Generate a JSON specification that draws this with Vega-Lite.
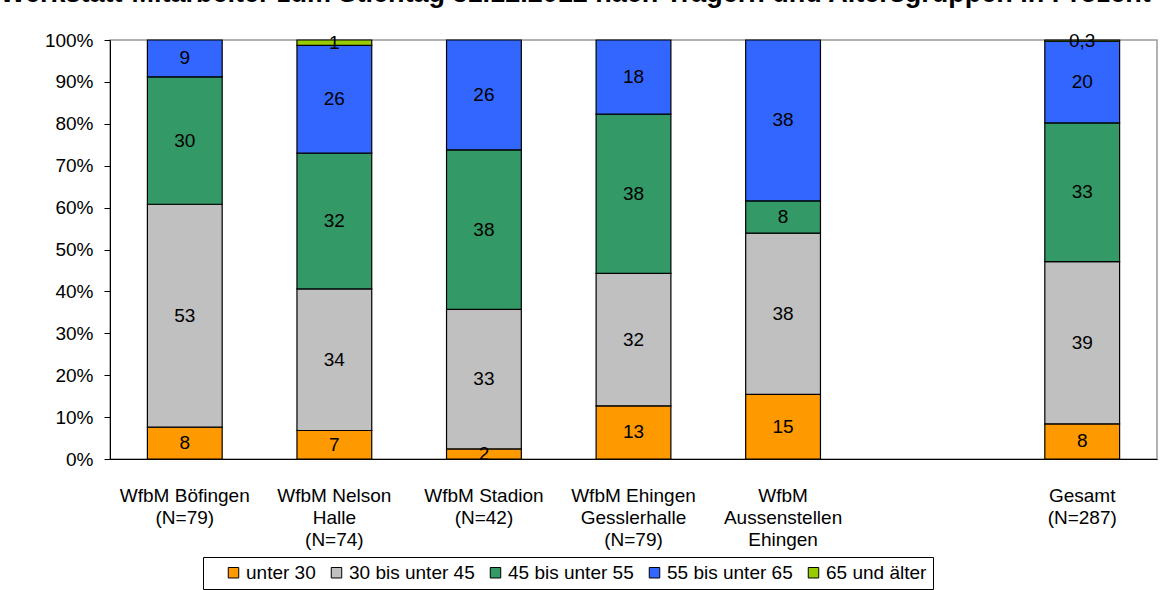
{
  "$schema": "https://vega.github.io/schema/vega-lite/v6.json",
  "autosize": "none",
  "width": 1047,
  "height": 419,
  "padding": {"left": 110, "top": 40, "right": 14, "bottom": 131},
  "background": "white",
  "title": {
    "text": "Werkstatt-Mitarbeiter zum Stichtag 31.12.2012 nach Trägern und Altersgruppen in Prozent",
    "anchor": "start",
    "frame": "group",
    "baseline": "alphabetic",
    "offset": 2,
    "dx": -110,
    "font": "Liberation Sans",
    "fontSize": 27,
    "fontWeight": "bold",
    "color": "black"
  },
  "data": {
    "values": [
      {"cat": "WfbM Böfingen|(N=79)", "grp": "unter 30", "ord": 1, "v": 7.6, "lab": "8"},
      {"cat": "WfbM Böfingen|(N=79)", "grp": "30 bis unter 45", "ord": 2, "v": 53.2, "lab": "53"},
      {"cat": "WfbM Böfingen|(N=79)", "grp": "45 bis unter 55", "ord": 3, "v": 30.4, "lab": "30"},
      {"cat": "WfbM Böfingen|(N=79)", "grp": "55 bis unter 65", "ord": 4, "v": 8.8, "lab": "9"},
      {"cat": "WfbM Nelson|Halle|(N=74)", "grp": "unter 30", "ord": 1, "v": 6.8, "lab": "7"},
      {"cat": "WfbM Nelson|Halle|(N=74)", "grp": "30 bis unter 45", "ord": 2, "v": 33.8, "lab": "34"},
      {"cat": "WfbM Nelson|Halle|(N=74)", "grp": "45 bis unter 55", "ord": 3, "v": 32.4, "lab": "32"},
      {"cat": "WfbM Nelson|Halle|(N=74)", "grp": "55 bis unter 65", "ord": 4, "v": 25.7, "lab": "26"},
      {"cat": "WfbM Nelson|Halle|(N=74)", "grp": "65 und älter", "ord": 5, "v": 1.3, "lab": "1"},
      {"cat": "WfbM Stadion|(N=42)", "grp": "unter 30", "ord": 1, "v": 2.4, "lab": "2"},
      {"cat": "WfbM Stadion|(N=42)", "grp": "30 bis unter 45", "ord": 2, "v": 33.3, "lab": "33"},
      {"cat": "WfbM Stadion|(N=42)", "grp": "45 bis unter 55", "ord": 3, "v": 38.1, "lab": "38"},
      {"cat": "WfbM Stadion|(N=42)", "grp": "55 bis unter 65", "ord": 4, "v": 26.2, "lab": "26"},
      {"cat": "WfbM Ehingen|Gesslerhalle|(N=79)", "grp": "unter 30", "ord": 1, "v": 12.7, "lab": "13"},
      {"cat": "WfbM Ehingen|Gesslerhalle|(N=79)", "grp": "30 bis unter 45", "ord": 2, "v": 31.6, "lab": "32"},
      {"cat": "WfbM Ehingen|Gesslerhalle|(N=79)", "grp": "45 bis unter 55", "ord": 3, "v": 38.0, "lab": "38"},
      {"cat": "WfbM Ehingen|Gesslerhalle|(N=79)", "grp": "55 bis unter 65", "ord": 4, "v": 17.7, "lab": "18"},
      {"cat": "WfbM|Aussenstellen|Ehingen", "grp": "unter 30", "ord": 1, "v": 15.4, "lab": "15"},
      {"cat": "WfbM|Aussenstellen|Ehingen", "grp": "30 bis unter 45", "ord": 2, "v": 38.5, "lab": "38"},
      {"cat": "WfbM|Aussenstellen|Ehingen", "grp": "45 bis unter 55", "ord": 3, "v": 7.7, "lab": "8"},
      {"cat": "WfbM|Aussenstellen|Ehingen", "grp": "55 bis unter 65", "ord": 4, "v": 38.4, "lab": "38"},
      {"cat": "Gesamt|(N=287)", "grp": "unter 30", "ord": 1, "v": 8.4, "lab": "8"},
      {"cat": "Gesamt|(N=287)", "grp": "30 bis unter 45", "ord": 2, "v": 38.7, "lab": "39"},
      {"cat": "Gesamt|(N=287)", "grp": "45 bis unter 55", "ord": 3, "v": 33.1, "lab": "33"},
      {"cat": "Gesamt|(N=287)", "grp": "55 bis unter 65", "ord": 4, "v": 19.5, "lab": "20"},
      {"cat": "Gesamt|(N=287)", "grp": "65 und älter", "ord": 5, "v": 0.3, "lab": "0,3"}
    ]
  },
  "transform": [
    {"stack": "v", "groupby": ["cat"], "sort": [{"field": "ord", "order": "ascending"}], "as": ["y0", "y1"]},
    {"calculate": "(datum.y0 + datum.y1) / 2", "as": "ymid"}
  ],
  "encoding": {
    "x": {
      "field": "cat",
      "type": "nominal",
      "sort": null,
      "scale": {
        "domain": ["WfbM Böfingen|(N=79)", "WfbM Nelson|Halle|(N=74)", "WfbM Stadion|(N=42)", "WfbM Ehingen|Gesslerhalle|(N=79)", "WfbM|Aussenstellen|Ehingen", " ", "Gesamt|(N=287)"],
        "paddingInner": 0.5,
        "paddingOuter": 0.25
      },
      "axis": {
        "title": null,
        "labelAngle": 0,
        "labelExpr": "split(datum.label, '|')",
        "labelLineHeight": 22,
        "labelPadding": 27,
        "ticks": false,
        "domainColor": "black",
        "labelFont": "Liberation Sans",
        "labelFontSize": 19,
        "labelColor": "black",
        "labelBaseline": "top"
      }
    }
  },
  "layer": [
    {
      "mark": {"type": "bar", "stroke": "black", "strokeWidth": 1.2},
      "encoding": {
        "y": {
          "field": "y0",
          "type": "quantitative",
          "scale": {"domain": [0, 100], "nice": false},
          "axis": {
            "title": null,
            "values": [0, 10, 20, 30, 40, 50, 60, 70, 80, 90, 100],
            "labelExpr": "datum.value + '%'",
            "grid": false,
            "domainColor": "black",
            "tickColor": "black",
            "tickSize": 6,
            "labelPadding": 11,
            "labelFont": "Liberation Sans",
            "labelFontSize": 19,
            "labelColor": "black"
          }
        },
        "y2": {"field": "y1"},
        "fill": {
          "field": "grp",
          "type": "nominal",
          "scale": {
            "domain": ["unter 30", "30 bis unter 45", "45 bis unter 55", "55 bis unter 65", "65 und älter"],
            "range": ["#FF9900", "#C0C0C0", "#339966", "#3366FF", "#99CC00"]
          },
          "legend": {
            "title": " ",
            "titleOrient": "left",
            "titlePadding": 15,
            "titleFontSize": 10,
            "orient": "none",
            "direction": "horizontal",
            "columns": 5,
            "legendX": 93,
            "legendY": 517,
            "padding": 6,
            "strokeColor": "black",
            "fillColor": "white",
            "symbolType": "square",
            "symbolSize": 110,
            "symbolStrokeColor": "black",
            "symbolStrokeWidth": 1,
            "symbolOpacity": 1,
            "labelOffset": 3,
            "columnPadding": 11,
            "labelFont": "Liberation Sans",
            "labelFontSize": 19,
            "labelColor": "black",
            "labelLimit": 300
          }
        }
      }
    },
    {
      "mark": {"type": "text", "font": "Liberation Sans", "fontSize": 19, "color": "black", "baseline": "middle", "align": "center"},
      "encoding": {
        "y": {"field": "ymid", "type": "quantitative"},
        "text": {"field": "lab"}
      }
    }
  ],
  "config": {
    "view": {"stroke": "#999999", "strokeWidth": 1.5}
  }
}
